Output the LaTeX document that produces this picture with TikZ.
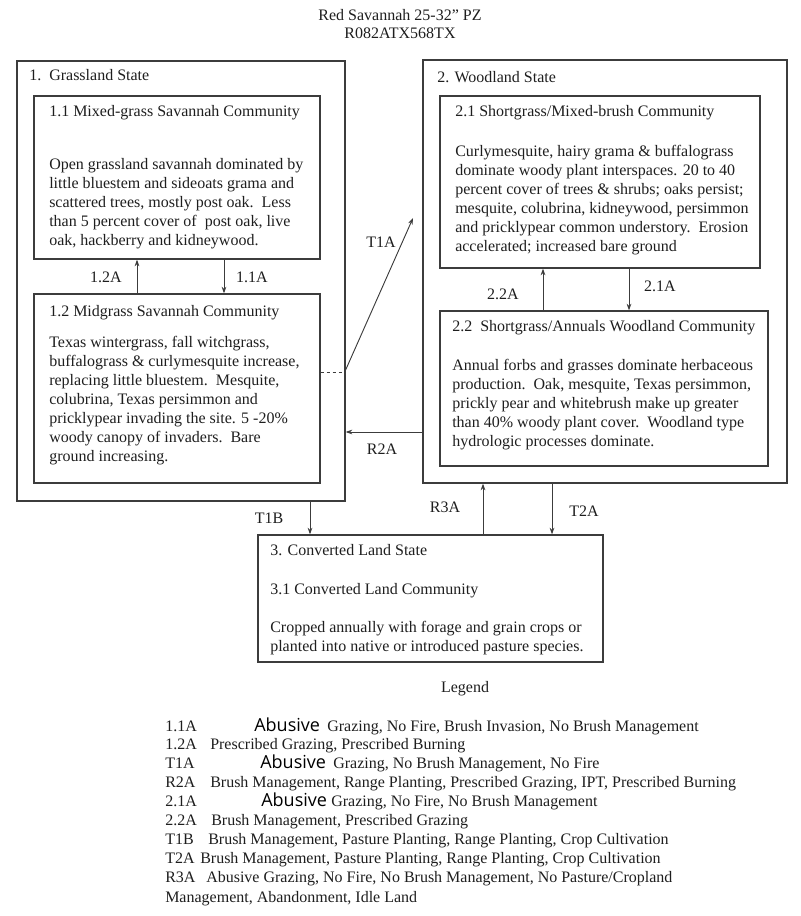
\documentclass[tikz,border=0pt]{standalone}
\usepackage{fontspec}
\setmainfont{Liberation Serif}
\newfontfamily\abusivefont{Open Sans}
\usepackage{xcolor}
\usetikzlibrary{positioning,fit,arrows.meta}

\definecolor{linegray}{RGB}{60,60,60}
\definecolor{textgray}{RGB}{30,30,30}

\tikzset{
  box/.style={draw=linegray, line width=0.9pt, inner sep=0pt, fit={#1}},
  conn/.style={-{Stealth[length=5pt,width=3.5pt]}, draw=linegray, line width=0.7pt},
  body/.style={inner sep=0pt, anchor=north west, align=left, text=textgray,
    font=\fontsize{12}{14.25}\selectfont},
  line/.style={inner sep=0pt, anchor=base west, text=textgray,
    font=\fontsize{12}{14.25}\selectfont},
  lbl/.style={inner sep=0pt, text=textgray, font=\fontsize{12}{14.25}\selectfont},
  abusive/.style={inner sep=0pt, anchor=base west, text=black,
    font=\abusivefont\fontsize{13.5}{14}\selectfont}
}

\begin{document}
\begin{tikzpicture}[x=0.75pt, y=-0.75pt]
        \useasboundingbox (0,0) rectangle (800,916);

        \node[lbl] (title) at (400,15) {Red Savannah 25-32” PZ};
        \node[lbl, below=5pt of title] (site) {R082ATX568TX};

        \node[box={(17,61) (345,501)}] (s1) {};
        \node[box={(34,96) (320,259)}] (c11) {};
        \node[box={(34,294) (320,483)}] (c12) {};
        \node[box={(423,60) (787,483)}] (s2) {};
        \node[box={(440,96) (760,268)}] (c21) {};
        \node[box={(440,311) (768,466)}] (c22) {};
        \node[box={(258,535) (603,662)}] (s3) {};

        \node[line] (s1t) at (29,81) {1.\hspace{6pt}Grassland State};
        \node[line] (c11t) at (49,117) {1.1 Mixed-grass Savannah Community};
        \node[body] (c11b) at (49,158) {Open grassland savannah dominated by\\
          little bluestem and sideoats grama and\\
          scattered trees, mostly post oak.\ \ Less\\
          than 5 percent cover of\ \ post oak, live\\
          oak, hackberry and kidneywood.};

        \node[line] (c12t) at (49,316) {1.2 Midgrass Savannah Community};
        \node[body] (c12b) at (49,336) {Texas wintergrass, fall witchgrass,\\
          buffalograss \& curlymesquite increase,\\
          replacing little bluestem.\ \ Mesquite,\\
          colubrina, Texas persimmon and\\
          pricklypear invading the site. 5 -20\%\\
          woody canopy of invaders.\ \ Bare\\
          ground increasing.};

        \node[line] (s2t) at (437,83) {2. Woodland State};
        \node[line] (c21t) at (455,117) {2.1 Shortgrass/Mixed-brush Community};
        \node[body] (c21b) at (455,145) {Curlymesquite, hairy grama \& buffalograss\\
          dominate woody plant interspaces. 20 to 40\\
          percent cover of trees \& shrubs; oaks persist;\\
          mesquite, colubrina, kidneywood, persimmon\\
          and pricklypear common understory.\ \ Erosion\\
          accelerated; increased bare ground};

        \node[line] (c22t) at (452,331) {2.2\ \ Shortgrass/Annuals Woodland Community};
        \node[body] (c22b) at (452,359) {Annual forbs and grasses dominate herbaceous\\
          production.\ \ Oak, mesquite, Texas persimmon,\\
          prickly pear and whitebrush make up greater\\
          than 40\% woody plant cover.\ \ Woodland type\\
          hydrologic processes dominate.};

        \node[line] (s3t) at (270,555) {3. Converted Land State};
        \node[line] (c31t) at (270,594) {3.1 Converted Land Community};
        \node[body] (c31b) at (270,621) {Cropped annually with forage and grain crops or\\
          planted into native or introduced pasture species.};

        \draw[conn] (c12.north -| 137,0) -- (c11.south -| 137,0);
        \draw[conn] (c11.south -| 224,0) -- (c12.north -| 224,0);
        \draw[conn] (c22.north -| 543,0) -- (c21.south -| 543,0);
        \draw[conn] (c21.south -| 629,0) -- (c22.north -| 629,0);
        \coordinate (t1aend) at (413,218);
        \draw[draw=linegray, line width=0.7pt, dash pattern=on 2.5pt off 2pt] (c12.east |- 0,372) -- (s1.east |- 0,372);
        \draw[conn] (s1.east |- 0,370) -- (t1aend);
        \draw[conn] (s2.west |- 0,432) -- (s1.east |- 0,432);
        \draw[conn] (s1.south -| 310,0) -- (s3.north -| 310,0);
        \draw[conn] (s3.north -| 483,0) -- (s2.south -| 483,0);
        \draw[conn] (s2.south -| 552,0) -- (s3.north -| 552,0);

        \node[lbl] (l12a) at (106,277) {1.2A};
        \node[lbl] (l11a) at (252,277) {1.1A};
        \node[lbl] (l22a) at (503,294) {2.2A};
        \node[lbl] (l21a) at (660,286) {2.1A};
        \node[lbl] (lt1a) at (381,242) {T1A};
        \node[lbl] (lr2a) at (382,449) {R2A};
        \node[lbl] (lt1b) at (269,518) {T1B};
        \node[lbl] (lr3a) at (445,507) {R3A};
        \node[lbl] (lt2a) at (584,511) {T2A};

        \node[lbl] (legend) at (465,689) {Legend};
        \node[line] (k1) at (165,731) {1.1A};
        \node[abusive] (a1) at (254,731) {Abusive};
        \node[line] (d1) at (327,731) {Grazing, No Fire, Brush Invasion, No Brush Management};
        \node[line] (k2) at (165,749) {1.2A};
        \node[line] (d2) at (210,749) {Prescribed Grazing, Prescribed Burning};
        \node[line] (k3) at (165,768) {T1A};
        \node[abusive] (a3) at (260,768) {Abusive};
        \node[line] (d3) at (333,768) {Grazing, No Brush Management, No Fire};
        \node[line] (k4) at (165,787) {R2A};
        \node[line] (d4) at (210,787) {Brush Management, Range Planting, Prescribed Grazing, IPT, Prescribed Burning};
        \node[line] (k5) at (165,806) {2.1A};
        \node[abusive] (a5) at (261,806) {Abusive};
        \node[line] (d5) at (331,806) {Grazing, No Fire, No Brush Management};
        \node[line] (k6) at (165,825) {2.2A};
        \node[line] (d6) at (211,825) {Brush Management, Prescribed Grazing};
        \node[line] (k7) at (165,844) {T1B};
        \node[line] (d7) at (208,844) {Brush Management, Pasture Planting, Range Planting, Crop Cultivation};
        \node[line] (k8) at (165,863) {T2A};
        \node[line] (d8) at (200,863) {Brush Management, Pasture Planting, Range Planting, Crop Cultivation};
        \node[line] (k9) at (165,882) {R3A};
        \node[line] (d9) at (206,882) {Abusive Grazing, No Fire, No Brush Management, No Pasture/Cropland};
        \node[line] (d10) at (165,902) {Management, Abandonment, Idle Land};
    \end{tikzpicture}
\end{document}
